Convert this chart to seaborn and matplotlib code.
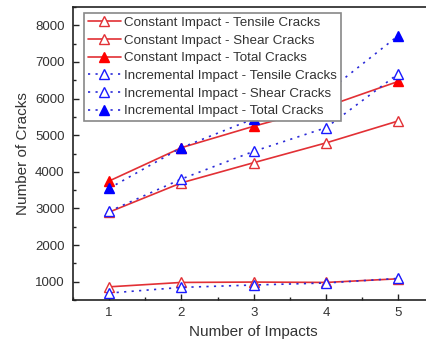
import numpy as np
import pandas as pd
import matplotlib
matplotlib.use("Agg")
import matplotlib.pyplot as plt
import seaborn as sns
from matplotlib.ticker import MultipleLocator

impacts = [1, 2, 3, 4, 5]

const_tensile = [2900, 3700, 4250, 4790, 5390]
const_shear = [860, 980, 990, 980, 1080]
const_total = [3750, 4660, 5245, 5780, 6470]

incr_tensile = [2920, 3805, 4560, 5205, 6680]
incr_shear = [690, 845, 910, 965, 1090]
incr_total = [3550, 4660, 5450, 6160, 7720]

labels = [
    "Constant Impact - Tensile Cracks",
    "Constant Impact - Shear Cracks",
    "Constant Impact - Total Cracks",
    "Incremental Impact - Tensile Cracks",
    "Incremental Impact - Shear Cracks",
    "Incremental Impact - Total Cracks",
]
series = [const_tensile, const_shear, const_total,
          incr_tensile, incr_shear, incr_total]

df = pd.concat(
    [pd.DataFrame({"impacts": impacts, "cracks": vals, "series": name})
     for name, vals in zip(labels, series)],
    ignore_index=True,
)

sns.set_theme(style="ticks")
plt.rcParams["font.family"] = ["Liberation Sans", "DejaVu Sans"]

fig = plt.figure(figsize=(4.27, 3.47), dpi=100)
ax = fig.add_axes([0.171, 0.1354, 0.8466, 0.8444])

red = "#e23035"
blue = "#2a2ad8"
styles = [
    dict(color=red, linestyle="-", mfc="white", mec=red),
    dict(color=red, linestyle="-", mfc="white", mec=red),
    dict(color=red, linestyle="-", mfc="#ff0000", mec="#ff0000"),
    dict(color=blue, linestyle=(0, (1.3, 3.2)), mfc="white", mec="#1a1aff"),
    dict(color=blue, linestyle=(0, (1.3, 3.2)), mfc="white", mec="#1a1aff"),
    dict(color=blue, linestyle=(0, (1.3, 3.2)), mfc="#0000ff", mec="#0000ff"),
]

for name, st in zip(labels, styles):
    sub = df[df["series"] == name]
    sns.lineplot(
        data=sub, x="impacts", y="cracks", ax=ax, label=name,
        color=st["color"], linestyle=st["linestyle"], linewidth=1.2,
        marker="^", markersize=6.5, markerfacecolor=st["mfc"],
        markeredgecolor=st["mec"], markeredgewidth=1.0,
    )

ax.set_xlim(0.5, 5.5)
ax.set_ylim(500, 8500)
ax.xaxis.set_major_locator(MultipleLocator(1))
ax.xaxis.set_minor_locator(MultipleLocator(0.5))
ax.yaxis.set_major_locator(MultipleLocator(1000))
ax.yaxis.set_minor_locator(MultipleLocator(500))
ax.tick_params(axis="both", which="major", direction="in", length=4,
               width=1, labelsize=9.5, colors="#222222", labelcolor="#333333")
ax.tick_params(axis="both", which="minor", direction="in", length=2.5,
               width=1, colors="#222222")
ax.tick_params(axis="y", pad=6)
ax.tick_params(axis="x", pad=5)

for sp in ax.spines.values():
    sp.set_color("#222222")
    sp.set_linewidth(1.2)
    sp.set_visible(True)

ax.set_xlabel("Number of Impacts", fontsize=11, color="#333333", labelpad=4)
ax.set_ylabel("Number of Cracks", fontsize=11, color="#333333", labelpad=4)

leg = ax.legend(loc="upper left", bbox_to_anchor=(0.022, 0.99),
                fontsize=9.6, frameon=True, fancybox=False,
                edgecolor="#888888", framealpha=1, borderpad=0.3,
                labelspacing=0.4, handlelength=2.5, handletextpad=0.25,
                borderaxespad=0.2)
leg.get_frame().set_linewidth(1.2)
for t in leg.get_texts():
    t.set_color("#333333")

fig.savefig("out.png", dpi=100)
